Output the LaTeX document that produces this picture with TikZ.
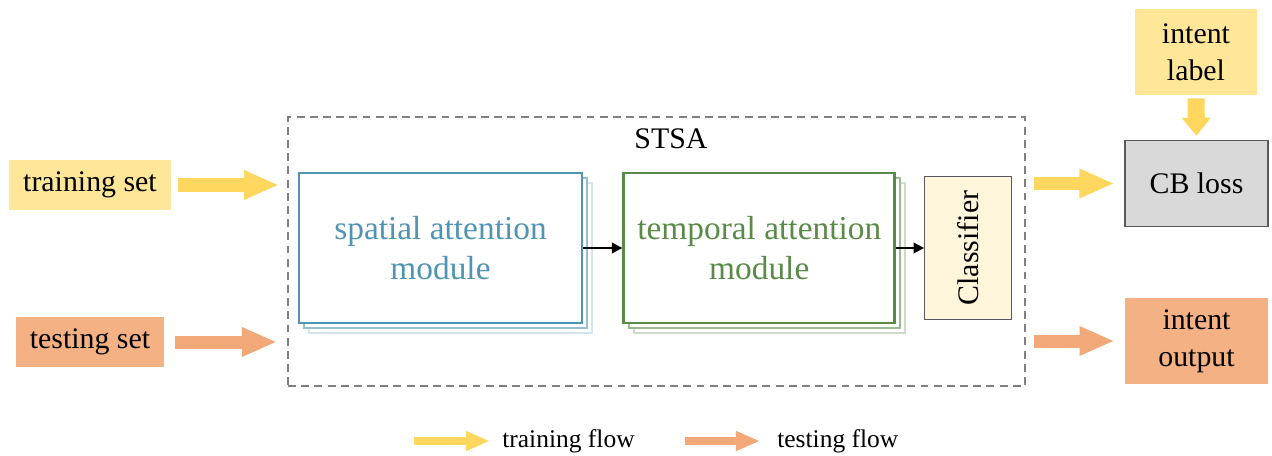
\documentclass[tikz,border=0pt]{standalone}
\usepackage{fontspec}
\setmainfont{Liberation Serif}
\usetikzlibrary{positioning,arrows.meta,shadows}
\definecolor{trainfill}{HTML}{FFE699}
\definecolor{trainflow}{HTML}{FFD75E}
\definecolor{testfill}{HTML}{F4B183}
\definecolor{testflow}{HTML}{F2A878}
\definecolor{spblue}{HTML}{4F95B3}
\definecolor{tmgreen}{HTML}{5A8A48}
\definecolor{clsfill}{HTML}{FFF5DA}
\definecolor{lossfill}{HTML}{D9D9D9}
\definecolor{edgegray}{HTML}{595959}

\begin{document}
\begin{tikzpicture}[x=0.02cm,y=-0.02cm,
  every node/.style={font=\fontsize{17}{21}\selectfont, align=center, inner sep=0pt},
  setbox/.style={minimum height=1cm},
  module/.style={draw, fill=white, line width=1.6pt, minimum height=3cm,
    font=\fontsize{19}{23}\selectfont},
  spmod/.style={module, draw=spblue, text=spblue,
    copy shadow={shadow xshift=0.2cm, shadow yshift=-0.2cm, draw=spblue!25, fill=white, line width=1.1pt},
    copy shadow={shadow xshift=0.1cm, shadow yshift=-0.1cm, draw=spblue!60, fill=white, line width=1.1pt}},
  tmmod/.style={module, draw=tmgreen, text=tmgreen,
    copy shadow={shadow xshift=0.2cm, shadow yshift=-0.2cm, draw=tmgreen!30, fill=white, line width=1.1pt},
    copy shadow={shadow xshift=0.1cm, shadow yshift=-0.1cm, draw=tmgreen!60, fill=white, line width=1.1pt}},
  outbox/.style={minimum width=2.86cm, minimum height=1.73cm},
  flow/.style={line width=7.4pt, -{Triangle[length=20pt,width=15.4pt]}},
  smallflow/.style={line width=4.6pt, -{Triangle[length=13.7pt,width=10.5pt]}},
  link/.style={line width=1.3pt, -{Triangle[length=6pt,width=6pt]}}]

  \useasboundingbox (0,0) rectangle (1272,456);

  % inputs
  \node[setbox, fill=trainfill, minimum width=3.24cm] (trainset) at (90,185) {training set};
  \node[setbox, fill=testfill, minimum width=2.96cm] (testset) at (90,342) {testing set};

  % STSA
  \node[draw=gray, line width=1.15pt, dash pattern=on 4.5pt off 3pt,
        minimum width=14.74cm, minimum height=5.38cm] (stsa) at (656.5,251.5) {};
  \node (stsalbl) at (671,139) {STSA};
  \node[spmod, minimum width=5.66cm] (spatial) at (440.5,248) {spatial attention\\module};
  \node[tmmod, minimum width=5.42cm, right=0.78cm of spatial] (temporal) {temporal attention\\module};
  \node[draw=edgegray, fill=clsfill, line width=0.6pt, minimum width=1.74cm,
        minimum height=2.86cm, right=0.56cm of temporal] (cls) {\rotatebox{90}{Classifier}};
  \draw[link] (spatial) -- (temporal);
  \draw[link] (temporal) -- (cls);

  % outputs
  \node[outbox, draw=edgegray, fill=lossfill, line width=0.6pt] (loss) at (1196.5,183.5) {CB loss};
  \node[fill=trainfill, minimum width=2.44cm, minimum height=1.72cm] (label) at (1196,52) {intent\\label};
  \node[outbox, fill=testfill] (output) at (1196.5,341) {intent\\output};

  % flows
  \draw[flow, draw=trainflow, shorten <=0.14cm, shorten >=0.16cm] (trainset.east) -- (trainset.east -| stsa.west);
  \draw[flow, draw=testflow, shorten <=0.22cm, shorten >=0.2cm] (testset.east) -- (testset.east -| stsa.west);
  \draw[flow, draw=trainflow, shorten <=0.16cm, shorten >=0.2cm] (stsa.east |- loss) -- (loss.west);
  \draw[flow, draw=testflow, shorten <=0.16cm, shorten >=0.2cm] (stsa.east |- output) -- (output.west);
  \draw[line width=9.7pt, draw=trainflow, -{Triangle[length=10.2pt,width=16pt]},
        shorten <=0.06cm, shorten >=0.08cm] (label.south) -- (loss.north);

  % legend
  \coordinate (lgtraina) at (414,441);
  \coordinate (lgtrainb) at (490,441);
  \coordinate (lgtesta) at (685,441);
  \coordinate (lgtestb) at (760,441);
  \draw[smallflow, draw=trainflow] (lgtraina) -- (lgtrainb);
  \draw[smallflow, draw=testflow] (lgtesta) -- (lgtestb);
  \node[right=0.24cm of lgtrainb, font=\fontsize{14.5}{17}\selectfont] (lgtrain) {training flow};
  \node[right=0.34cm of lgtestb, font=\fontsize{14.5}{17}\selectfont] (lgtest) {testing flow};
\end{tikzpicture}
\end{document}
